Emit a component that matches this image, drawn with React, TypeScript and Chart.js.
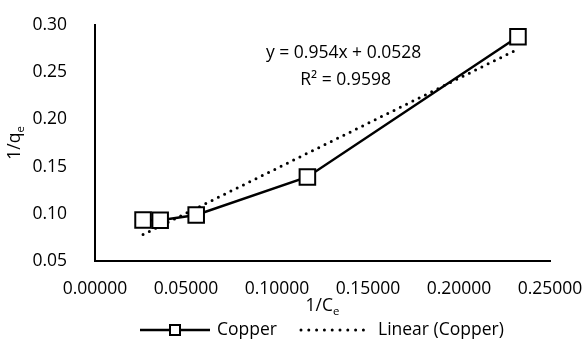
import React, { useEffect, useRef } from "react";
import { Chart, registerables } from "chart.js";
Chart.register(...registerables);

const seriesName = "Copper";
const trendName = "Linear (Copper)";
const copperX = [0.0264, 0.0358, 0.0556, 0.1167, 0.2324];
const copperY = [0.0934, 0.0932, 0.0987, 0.139, 0.2875];
const trendX = [0.0264, 0.2324];
const trendY = [0.078, 0.2745];
const xTickLabels = ["0.00000", "0.05000", "0.10000", "0.15000", "0.20000", "0.25000"];
const yTickLabels = ["0.05", "0.10", "0.15", "0.20", "0.25", "0.30"];
const equationText = "y = 0.954x + 0.0528";
const r2Text = "R² = 0.9598";
const xTitle = ["1/C", "e"];
const yTitle = ["1/q", "e"];

const FONT = "'Open Sans', sans-serif";
const FS = 17.5;

function drawSub(ctx: CanvasRenderingContext2D, main: string, sub: string, cx: number, cy: number) {
  ctx.font = `${FS}px ${FONT}`;
  const w1 = ctx.measureText(main).width;
  ctx.font = `${FS * 0.65}px ${FONT}`;
  const w2 = ctx.measureText(sub).width;
  const total = w1 + w2;
  const left = cx - total / 2;
  ctx.textAlign = "left";
  ctx.textBaseline = "middle";
  ctx.font = `${FS}px ${FONT}`;
  ctx.fillText(main, left, cy);
  ctx.font = `${FS * 0.65}px ${FONT}`;
  ctx.fillText(sub, left + w1, cy + 6);
}

const annotPlugin = {
  id: "annot",
  afterDraw(chart: any) {
    const ctx = chart.ctx as CanvasRenderingContext2D;
    const xs = chart.scales.x;
    const ys = chart.scales.y;
    const ca = chart.chartArea;
    ctx.save();
    ctx.fillStyle = "#000";
    // axis titles
    drawSub(ctx, xTitle[0], xTitle[1], (ca.left + ca.right) / 2, 306);
    ctx.save();
    ctx.translate(15, (ca.top + ca.bottom) / 2);
    ctx.rotate(-Math.PI / 2);
    drawSub(ctx, yTitle[0], yTitle[1], 0, 0);
    ctx.restore();
    // equation
    ctx.font = `${FS}px ${FONT}`;
    ctx.textAlign = "center";
    ctx.textBaseline = "middle";
    const ex = xs.getPixelForValue(0.1366);
    const ey = ys.getPixelForValue(0.2703);
    ctx.fillText(equationText, ex, ey);
    ctx.fillText(r2Text, ex + 2, ey + 27);
    // legend
    const ly = 330;
    ctx.strokeStyle = "#000";
    ctx.lineWidth = 2.5;
    ctx.beginPath();
    ctx.moveTo(140, ly);
    ctx.lineTo(210, ly);
    ctx.stroke();
    ctx.fillStyle = "#fff";
    ctx.lineWidth = 2;
    ctx.fillRect(170, ly - 5, 10, 10);
    ctx.strokeRect(170, ly - 5, 10, 10);
    ctx.fillStyle = "#000";
    ctx.textAlign = "left";
    ctx.fillText(seriesName, 217, ly);
    ctx.lineWidth = 3;
    ctx.lineCap = "round";
    ctx.setLineDash([0, 7.8]);
    ctx.beginPath();
    ctx.moveTo(301, ly);
    ctx.lineTo(364, ly);
    ctx.stroke();
    ctx.setLineDash([]);
    ctx.fillText(trendName, 378, ly);
    ctx.restore();
  },
};

export default function App() {
  const ref = useRef<HTMLCanvasElement>(null);
  useEffect(() => {
    if (!ref.current) return;
    const chart = new Chart(ref.current, {
      type: "scatter",
      data: {
        datasets: [
          {
            label: seriesName,
            data: copperX.map((x, i) => ({ x, y: copperY[i] })),
            showLine: true,
            borderColor: "#000",
            borderWidth: 2.5,
            pointStyle: "rect",
            pointRadius: 11,
            pointBorderWidth: 2,
            pointBackgroundColor: "#fff",
            pointBorderColor: "#000",
            order: 1,
          },
          {
            label: trendName,
            data: trendX.map((x, i) => ({ x, y: trendY[i] })),
            showLine: true,
            borderColor: "#000",
            borderWidth: 3,
            borderDash: [0, 7],
            borderCapStyle: "round",
            pointRadius: 0,
            order: 2,
          },
        ] as any,
      },
      options: {
        animation: false,
        responsive: true,
        maintainAspectRatio: false,
        layout: { padding: { top: 25, right: 37, left: 0, bottom: 0 } },
        plugins: { legend: { display: false }, tooltip: { enabled: false } },
        scales: {
          x: {
            type: "linear",
            min: 0,
            max: 0.25,
            ticks: {
              stepSize: 0.05,
              padding: 10,
              color: "#000",
              font: { family: FONT, size: FS },
              maxRotation: 0,
              callback: (v: any) => xTickLabels[Math.round(Number(v) / 0.05)] ?? "",
            },
            grid: { display: false },
            border: { display: true, color: "#000", width: 2 },
            afterFit: (s: any) => {
              s.height = 78;
              s.paddingLeft = 0;
              s.paddingRight = 0;
            },
          },
          y: {
            type: "linear",
            min: 0.05,
            max: 0.3,
            ticks: {
              stepSize: 0.05,
              padding: 20,
              color: "#000",
              font: { family: FONT, size: FS },
              callback: (v: any) => yTickLabels[Math.round((Number(v) - 0.05) / 0.05)] ?? "",
            },
            grid: { display: false },
            border: { display: true, color: "#000", width: 2 },
            afterFit: (s: any) => {
              s.width = 95;
              s.paddingTop = 0;
              s.paddingBottom = 0;
            },
          },
        },
      } as any,
      plugins: [annotPlugin],
    });
    return () => chart.destroy();
  }, []);
  return (
    <div style={{ position: "fixed", left: 0, top: 0, width: 587, height: 339, background: "#fff" }}>
      <canvas ref={ref} />
    </div>
  );
}
